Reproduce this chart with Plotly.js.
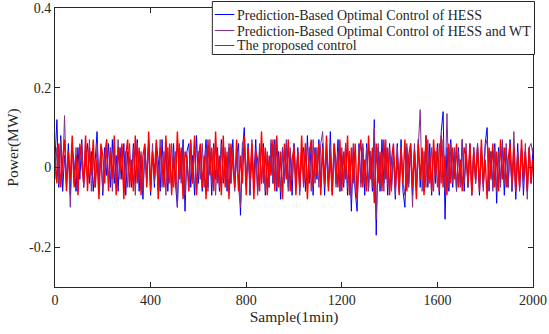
<!DOCTYPE html>
<html><head><meta charset="utf-8">
<script src="https://cdn.plot.ly/plotly-3.0.1.min.js"></script>
<style>html,body{margin:0;padding:0;background:#fff}#chart{width:549px;height:334px}</style>
</head><body><div id="chart"></div>
<script>
// Sample step between listed points (samples, 1 min each)
const sampleStep = 8;
const seriesNames = ["Prediction-Based Optimal Control of HESS","Prediction-Based Optimal Control of HESS and WT","The proposed control"];
// Power (MW)
const hessPower = [
0.02,0.12,-0.05,0.08,-0.06,0.03,-0.04,0.06,-0.07,0.05,
0.01,-0.06,0.05,-0.03,0.07,-0.05,0.02,0.06,-0.04,0.04,
-0.06,0.03,0.09,-0.05,0.04,-0.07,0.05,-0.02,0.06,-0.05,
0.07,-0.04,0.03,-0.06,0.05,-0.03,0.06,-0.07,0.04,0.02,
-0.05,0.06,-0.04,0.07,-0.06,0.03,-0.08,0.05,-0.03,0.06,
-0.07,0.04,-0.05,0.06,0.02,-0.06,0.07,-0.04,0.05,-0.06,
0.03,-0.05,0.06,-0.04,-0.10,0.05,-0.03,0.07,-0.11,0.04,
0.06,-0.05,0.03,-0.07,0.08,-0.04,0.05,-0.06,0.02,0.07,
-0.05,0.04,-0.07,0.06,-0.03,0.05,-0.06,0.07,-0.04,0.03,
-0.06,0.05,-0.04,0.07,-0.05,0.03,0.06,-0.12,0.04,0.10,
-0.05,0.06,-0.07,0.04,-0.03,0.07,-0.06,0.05,-0.04,0.06,
-0.07,0.03,-0.05,0.06,-0.04,0.07,-0.06,0.04,-0.08,0.05,
-0.03,0.06,-0.05,0.04,-0.07,0.06,-0.04,0.05,-0.06,0.03,
0.05,-0.06,0.08,-0.04,0.06,-0.07,0.05,-0.03,0.07,-0.05,
0.06,-0.07,0.04,-0.05,0.09,-0.06,0.05,-0.04,0.07,-0.06,
0.03,-0.05,0.06,-0.07,0.04,-0.11,0.05,-0.06,-0.11,0.06,
-0.04,0.05,-0.07,0.06,-0.05,0.04,-0.06,0.12,-0.17,0.05,
-0.06,0.07,-0.04,0.05,-0.07,0.06,-0.05,0.04,-0.08,0.06,
-0.05,0.07,-0.06,-0.10,0.05,-0.04,0.06,-0.07,0.05,-0.06,
0.07,-0.05,0.04,-0.06,0.08,-0.05,0.06,-0.07,0.05,-0.04,
0.06,-0.07,0.09,0.14,-0.13,0.05,-0.06,0.07,-0.05,0.04,
-0.06,0.05,-0.04,0.07,-0.06,0.04,-0.05,0.06,-0.07,0.05,
-0.04,0.06,-0.07,0.05,-0.05,0.06,0.10,-0.06,0.04,-0.05,
0.06,-0.09,0.05,-0.04,0.06,-0.07,0.05,-0.05,0.07,-0.06,
0.04,-0.08,0.06,-0.05,0.05,-0.07,0.04,-0.06,0.05,-0.04,
0.05];
const hessWtPower = [
-0.03,0.05,-0.04,0.07,-0.02,0.13,-0.05,0.04,-0.10,0.06,
-0.04,0.05,-0.06,0.03,0.06,-0.05,0.04,-0.03,0.07,-0.06,
0.04,-0.05,0.06,-0.03,0.05,-0.06,0.03,0.07,-0.04,0.05,
-0.06,0.04,-0.05,0.07,-0.03,0.05,-0.06,0.04,-0.05,0.06,
-0.04,0.05,-0.07,0.06,-0.03,0.04,-0.06,0.05,-0.04,0.07,
-0.05,0.06,-0.04,0.03,-0.06,0.07,-0.05,0.04,-0.07,0.05,
-0.04,0.06,-0.05,0.04,-0.10,0.06,-0.04,0.05,-0.07,0.03,
-0.05,0.06,-0.04,0.07,-0.06,0.04,-0.03,0.06,-0.05,0.05,
-0.06,0.07,-0.04,0.05,-0.07,0.04,-0.05,0.06,-0.03,0.05,
-0.05,0.06,-0.04,0.05,-0.06,0.04,-0.05,-0.10,0.06,0.07,
-0.04,0.05,-0.06,0.07,-0.05,0.03,-0.07,0.06,-0.04,0.05,
-0.06,0.04,-0.05,0.07,-0.04,0.06,-0.05,0.03,-0.06,0.05,
-0.04,0.07,-0.06,0.05,-0.03,0.06,-0.05,0.04,-0.07,0.05,
-0.05,0.06,-0.04,0.05,-0.06,0.07,-0.04,0.05,-0.05,0.06,
0.09,-0.05,0.06,-0.04,0.05,-0.07,0.06,-0.05,0.04,-0.06,
0.05,-0.04,0.06,-0.05,0.04,-0.08,0.06,-0.05,-0.08,0.05,
-0.05,0.06,-0.04,0.05,-0.06,0.04,-0.05,0.10,-0.13,0.06,
-0.05,0.04,-0.06,0.07,-0.04,0.05,-0.06,0.04,-0.07,0.05,
-0.06,0.05,-0.04,-0.07,0.06,-0.05,0.04,-0.10,0.06,-0.05,
0.05,0.145,-0.06,0.04,-0.05,0.07,-0.04,0.05,-0.06,0.04,
-0.05,0.06,-0.04,0.07,-0.06,0.135,-0.05,0.06,-0.04,0.05,
-0.06,0.04,-0.05,0.07,-0.04,0.06,-0.05,0.04,-0.06,0.05,
-0.04,0.06,-0.05,0.04,-0.06,0.05,0.07,-0.05,0.04,-0.06,
0.05,-0.06,0.04,-0.05,0.07,-0.04,0.06,-0.05,0.04,-0.06,
0.09,-0.05,0.04,-0.06,0.05,-0.04,0.06,-0.08,0.05,0.06,
0.03];
const proposedPower = [
0.03,-0.04,0.06,-0.05,0.02,0.07,-0.06,0.04,-0.03,0.08,
-0.05,0.03,-0.07,0.06,0.01,-0.04,0.08,-0.06,0.05,-0.02,
0.07,-0.05,0.02,-0.08,0.06,0.03,-0.04,0.07,-0.06,0.04,
-0.03,0.08,-0.07,0.05,-0.01,0.06,-0.08,0.03,0.07,-0.05,
0.02,-0.06,0.08,-0.04,0.05,-0.07,0.03,0.06,-0.05,0.09,
-0.06,0.04,-0.02,0.07,-0.08,0.05,0.01,-0.05,0.08,-0.04,
0.06,-0.07,0.03,-0.05,0.09,-0.03,0.05,-0.08,0.04,0.02,
-0.06,0.07,-0.04,0.08,-0.07,0.02,0.06,-0.05,0.03,-0.08,
0.07,-0.02,0.05,-0.06,0.09,-0.04,0.03,-0.07,0.08,-0.05,
0.04,-0.08,0.06,0.01,-0.05,0.07,-0.06,0.03,-0.04,0.08,
-0.07,0.05,-0.03,0.06,-0.08,0.04,0.02,-0.06,0.09,-0.04,
0.05,-0.07,0.03,-0.02,0.07,-0.06,0.08,-0.05,0.04,-0.08,
0.06,-0.03,0.07,-0.06,0.02,0.05,-0.07,0.04,-0.05,0.08,
-0.04,0.06,-0.08,0.03,0.07,-0.05,0.04,-0.02,0.06,-0.07,
0.05,-0.04,0.08,-0.06,0.03,-0.07,0.06,0.01,-0.05,0.07,
-0.06,0.04,-0.03,0.08,-0.07,0.05,-0.04,0.06,-0.08,0.03,
0.07,-0.05,0.02,-0.06,0.08,-0.03,0.05,-0.09,0.06,-0.04,
0.04,-0.06,0.07,-0.03,0.05,-0.07,0.02,0.06,-0.05,0.03,
-0.07,0.05,-0.04,0.07,-0.06,0.03,0.06,-0.05,0.04,-0.08,
0.06,-0.03,0.05,-0.07,0.08,-0.04,0.03,-0.06,0.07,-0.02,
0.05,-0.06,0.08,-0.05,0.03,-0.07,0.06,-0.04,0.05,-0.03,
0.06,-0.05,0.02,-0.06,0.05,0.03,-0.04,0.06,-0.07,0.04,
-0.03,0.05,-0.06,0.07,-0.04,0.02,-0.08,0.05,-0.03,0.06,
-0.05,0.04,-0.06,0.07,-0.03,0.05,-0.05,0.02,0.06,-0.04,
0.05,-0.06,0.03,-0.05,0.07,-0.03,0.04,-0.06,0.05,-0.04,
0.02];
const xTickVals = [0,400,800,1200,1600,2000];
const xTickText = ["0","400","800","1200","1600","2000"];
const yTickVals = [-0.2,0,0.2,0.4];
const yTickText = ["-0.2","0","0.2","0.4"];

const W = 549, H = 334;
const M = {l: 55, r: 15.5, t: 8, b: 47};
const px2x = p => (p - M.l) / (W - M.l - M.r);
const px2y = p => 1 - (p - M.t) / (H - M.t - M.b);

const samples = hessPower.map((_, i) => i * sampleStep);
const colors = ["#0000ff","#7e2f8e","#ff0000"];
const widths = [1, 1, 1.4];
const seriesData = [hessPower, hessWtPower, proposedPower];
const traces = seriesData.map((ys, k) => ({
  x: samples, y: ys, type: "scatter", mode: "lines", name: seriesNames[k],
  line: {color: colors[k], width: widths[k]}, showlegend: false
}));
const fam = "Liberation Serif";
const tickFont = {family: fam, size: 14, color: "#262626"};
const titleFont = {family: fam, size: 15.5, color: "#262626"};
const axisCommon = {
  showgrid: false, zeroline: false, showline: true, linecolor: "#262626", linewidth: 1,
  mirror: "ticks", ticks: "inside", ticklen: 5, tickwidth: 1, tickcolor: "#262626",
  tickfont: tickFont
};
// Legend box drawn in plot-relative (paper) coordinates
const legBox = {x0: 212.5, x1: 535, y0: 1.5, y1: 54.5};
const legRows = [14.5, 30.5, 45.5];
const shapes = [{type: "rect", xref: "paper", yref: "paper", x0: px2x(legBox.x0), x1: px2x(legBox.x1),
  y0: px2y(legBox.y1), y1: px2y(legBox.y0), fillcolor: "#fff", line: {color: "#262626", width: 1}, layer: "above"}];
const annotations = [];
seriesNames.forEach((name, k) => {
  shapes.push({type: "line", xref: "paper", yref: "paper", x0: px2x(215), x1: px2x(234.5),
    y0: px2y(legRows[k]), y1: px2y(legRows[k]), line: {color: colors[k], width: 1}, layer: "above"});
  annotations.push({xref: "paper", yref: "paper", x: px2x(235.5), y: px2y(legRows[k] + 0.5),
    xanchor: "left", yanchor: "middle", text: name, showarrow: false, font: tickFont});
});
const layout = {
  width: W, height: H,
  margin: M,
  paper_bgcolor: "#fff", plot_bgcolor: "#fff",
  font: tickFont,
  showlegend: false,
  shapes: shapes, annotations: annotations,
  xaxis: Object.assign({}, axisCommon, {range: [0, 2000], tickvals: xTickVals, ticktext: xTickText,
         title: {text: "Sample(1min)", font: titleFont, standoff: 2}}),
  yaxis: Object.assign({}, axisCommon, {range: [-0.3, 0.4], tickvals: yTickVals, ticktext: yTickText,
         ticklabelstandoff: 0, title: {text: "Power(MW)", font: titleFont, standoff: 6}})
};
Plotly.newPlot("chart", traces, layout, {displayModeBar: false, staticPlot: true});
</script></body></html>
